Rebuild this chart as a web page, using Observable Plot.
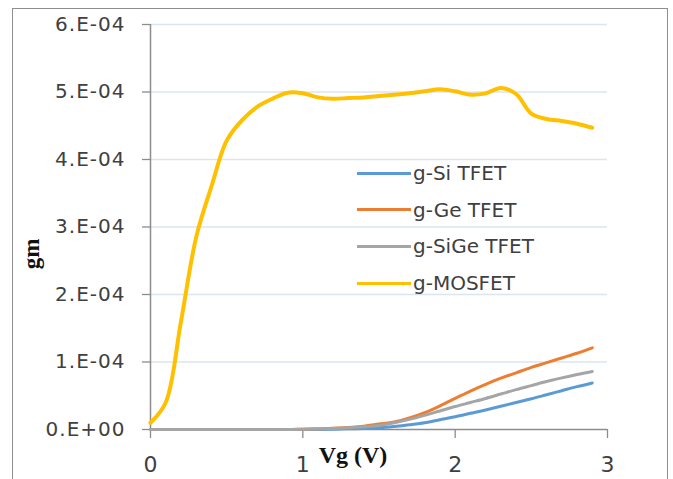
<!DOCTYPE html>
<html>
<head>
<meta charset="utf-8">
<script src="https://cdn.jsdelivr.net/npm/d3@7"></script>
<script src="https://cdn.jsdelivr.net/npm/@observablehq/plot@0.6"></script>
<style>
  html, body { margin: 0; padding: 0; background: #fff; }
  #wrap { position: relative; width: 673px; height: 479px; overflow: hidden; background: #fff; }
  #frame { position: absolute; left: 12px; top: 8px; width: 656px; height: 500px; border: 1.5px solid #8e8e8e; box-sizing: border-box; pointer-events: none; }
  #chart { position: absolute; left: 0; top: 0; }
  g[aria-label="y-axis tick label"] text { letter-spacing: 1px; }
  .axt { position: absolute; font-family: "Liberation Serif", "DejaVu Serif", serif; font-weight: bold; color: #111; line-height: 1; white-space: nowrap; }
  .leg { position: absolute; left: 357px; height: 24px; display: flex; align-items: center; font-family: "DejaVu Sans", sans-serif; font-size: 20px; color: #404040; white-space: nowrap; }
  .leg .sw { width: 54px; height: 3px; margin-right: 2px; }
</style>
</head>
<body>
<div id="wrap">
  <div id="chart"></div>
  <div id="frame"></div>
</div>
<script>
// ---- data ----
const vg = [0,0.1,0.2,0.3,0.4,0.5,0.6,0.7,0.8,0.9,1.0,1.1,1.2,1.3,1.4,1.5,1.6,1.7,1.8,1.9,2.0,2.1,2.2,2.3,2.4,2.5,2.6,2.7,2.8,2.9];
const gSi = [0,0,0,0,0,0,0,0,0,0,0,0.0002e-4,0.005e-4,0.01e-4,0.015e-4,0.025e-4,0.045e-4,0.07e-4,0.10e-4,0.145e-4,0.19e-4,0.24e-4,0.29e-4,0.345e-4,0.40e-4,0.455e-4,0.515e-4,0.575e-4,0.635e-4,0.69e-4];
const gGe = [0,0,0,0,0,0,0,0,0,0,0.005e-4,0.01e-4,0.02e-4,0.03e-4,0.05e-4,0.08e-4,0.11e-4,0.17e-4,0.25e-4,0.35e-4,0.46e-4,0.57e-4,0.67e-4,0.76e-4,0.84e-4,0.92e-4,0.99e-4,1.06e-4,1.13e-4,1.21e-4];
const gSiGe = [0,0,0,0,0,0,0,0,0,0,0.003e-4,0.008e-4,0.015e-4,0.025e-4,0.04e-4,0.06e-4,0.10e-4,0.15e-4,0.21e-4,0.275e-4,0.34e-4,0.40e-4,0.46e-4,0.525e-4,0.59e-4,0.65e-4,0.71e-4,0.765e-4,0.815e-4,0.86e-4];
const gMOS = [0.1e-4,0.4e-4,1.6e-4,2.85e-4,3.6e-4,4.28e-4,4.58e-4,4.78e-4,4.90e-4,4.99e-4,4.98e-4,4.92e-4,4.90e-4,4.91e-4,4.92e-4,4.94e-4,4.96e-4,4.98e-4,5.01e-4,5.04e-4,5.01e-4,4.96e-4,4.98e-4,5.06e-4,4.97e-4,4.68e-4,4.60e-4,4.57e-4,4.53e-4,4.47e-4];

const seriesNames = ["g-Si TFET", "g-Ge TFET", "g-SiGe TFET", "g-MOSFET"];
const seriesValues = [gSi, gGe, gSiGe, gMOS];
const seriesColors = ["#5B9BD5", "#ED7D31", "#A5A5A5", "#FFC000"];
const seriesWidths = [3, 3, 3, 4];

const xTicks = [0, 1, 2, 3];
const xTickLabels = ["0", "1", "2", "3"];
const yTicks = [0, 1e-4, 2e-4, 3e-4, 4e-4, 5e-4, 6e-4];
const yTickLabels = ["0.E+00", "1.E-04", "2.E-04", "3.E-04", "4.E-04", "5.E-04", "6.E-04"];
const xTitle = "Vg (V)";
const yTitle = "gm";

// ---- build rows ----
const lineMarks = seriesNames.map((name, k) => {
  const rows = vg.map((x, i) => ({ x, y: seriesValues[k][i], s: name }));
  return Plot.line(rows, { x: "x", y: "y", stroke: seriesColors[k], strokeWidth: seriesWidths[k], curve: "catmull-rom" });
});

const axisColor = "#8c8c8c";
const chart = Plot.plot({
  width: 673,
  height: 479,
  marginLeft: 150,
  marginRight: 66,
  marginTop: 24,
  marginBottom: 50,
  x: { domain: [0, 3] },
  y: { domain: [0, 6e-4] },
  style: { fontFamily: "DejaVu Sans, sans-serif", color: "#404040", background: "transparent", overflow: "visible" },
  marks: [
    Plot.gridY(yTicks.slice(1), { stroke: "#dae5f2", strokeOpacity: 1, strokeWidth: 1.3 }),
    Plot.axisY(yTicks, { tickSize: 8, tickPadding: 17, fontSize: 20, stroke: axisColor, strokeWidth: 1.3, label: null,
      tickFormat: d => yTickLabels[yTicks.indexOf(d)] }),
    Plot.axisX(xTicks, { tickSize: 9, tickPadding: 18, fontSize: 22, stroke: axisColor, strokeWidth: 1.3, label: null,
      tickFormat: d => xTickLabels[xTicks.indexOf(d)] }),
    Plot.ruleX([0], { stroke: axisColor, strokeWidth: 1.5 }),
    Plot.ruleY([0], { stroke: axisColor, strokeWidth: 1.5 }),
    ...lineMarks
  ]
});
document.getElementById("chart").appendChild(chart);

const wrap = document.getElementById("wrap");
// axis titles
const xt = document.createElement("div");
xt.className = "axt";
xt.textContent = xTitle;
xt.style.fontSize = "24px";
xt.style.left = "353px";
xt.style.top = "443px";
xt.style.transform = "translateX(-50%)";
wrap.appendChild(xt);

const yt = document.createElement("div");
yt.className = "axt";
yt.textContent = yTitle;
yt.style.fontSize = "23px";
yt.style.left = "31px";
yt.style.top = "254px";
yt.style.transform = "translate(-50%,-50%) rotate(-90deg)";
wrap.appendChild(yt);

// legend
seriesNames.forEach((name, k) => {
  const row = document.createElement("div");
  row.className = "leg";
  row.style.top = (173 + k * 36.7 - 12) + "px";
  const sw = document.createElement("span");
  sw.className = "sw";
  sw.style.background = seriesColors[k];
  const tx = document.createElement("span");
  tx.textContent = name;
  row.appendChild(sw);
  row.appendChild(tx);
  wrap.appendChild(row);
});
</script>
</body>
</html>
